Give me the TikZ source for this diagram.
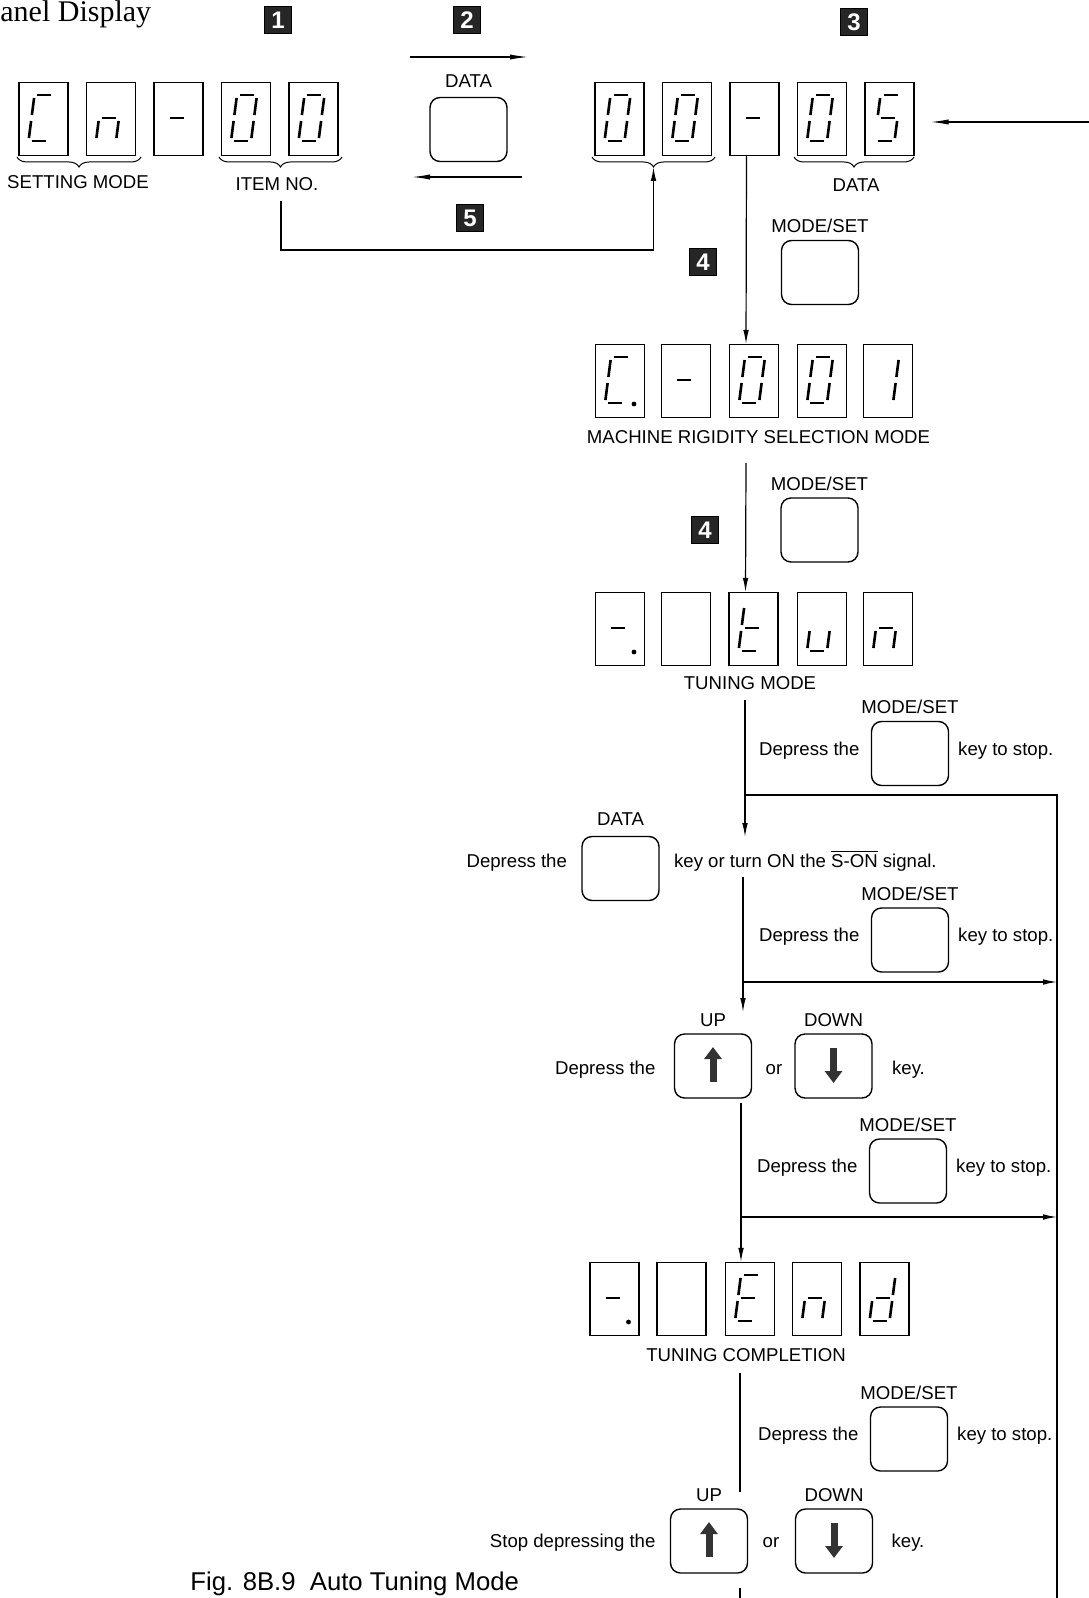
\documentclass[tikz,border=0pt]{standalone}
\usepackage{fontspec}
\setmainfont{Liberation Sans}
\newfontfamily\titlefont{Liberation Serif}
\usetikzlibrary{arrows.meta,positioning,decorations.pathreplacing}

% seven segment pieces: x1/y1/x2/y2 (px, y downwards)
\newcommand{\lcdsega}{-7/-23/7/-23}
\newcommand{\lcdsegb}{10/-20/10/-3}
\newcommand{\lcdsegc}{10/3/10/20}
\newcommand{\lcdsegd}{-7/23/7/23}
\newcommand{\lcdsege}{-10/3/-10/20}
\newcommand{\lcdsegf}{-10/-20/-10/-3}
\newcommand{\lcdsegg}{-7/0/7/0}
\def\lcdline#1/#2/#3/#4\relax{\draw[lcdseg] (#1,#2) -- (#3,#4);}
\newcommand{\lcd}[2]{%
  \begin{scope}[shift={(#1.center)},shift={(-2,-1)},xslant=0.13]
    \foreach \s in {#2}
      {\expandafter\expandafter\expandafter\lcdline\csname lcdseg\s\endcsname\relax}
  \end{scope}}
\newcommand{\lcddot}[1]{\fill ([shift={(14,23)}]#1.center) circle[radius=2.4];}

\tikzset{
  lbl/.style={font=\fontsize{9.3}{11}\selectfont, inner sep=0pt, text height=6.7pt, text depth=0pt},
  lcdbox/.style={draw, line width=0.55pt, minimum width=24.5pt, minimum height=36.5pt, inner sep=0pt},
  lcdseg/.style={line width=1.3pt},
  keycap/.style={draw, line width=0.7pt, rounded corners=5pt, minimum width=38.5pt, minimum height=32pt, inner sep=0pt},
  badge/.style={fill=black!85, draw=black, minimum size=13.5pt, inner sep=0pt, text=white,
    font=\fontsize{12}{12}\selectfont\bfseries},
  flow/.style={line width=0.6pt},
  flowtip/.style={-{Latex[length=7pt,width=2.8pt]}},
  longtip/.style={-{Latex[length=9pt,width=2.6pt]}},
  brk/.style={line width=0.5pt, decorate, decoration={brace, mirror, amplitude=5pt}},
  keyarrow/.style={black!80, line width=3.5pt, -{Triangle[width=8.5pt,length=6pt]}},
}

\begin{document}
\begin{tikzpicture}[x=0.5pt,y=-0.5pt]
  \useasboundingbox (0,0) rectangle (1088,1598);
  \node[font=\titlefont\fontsize{15}{18}\selectfont,anchor=base west,inner sep=0pt] (title) at (0,22) {anel Display};

  % Step badges
  \foreach \n/\t/\x/\y in {n1/1/278/20, n2/2/467/20, n3/3/854/22, n5/5/470/218, n4a/4/703/262, n4b/4/705/530}
    \node[badge] (\n) at (\x,\y) {\t};

  % Left: setting mode display
  \foreach \i/\x in {1/43.5,2/111,3/178.5,4/246,5/313.5}
    \node[lcdbox] (ra\i) at (\x,119) {};
  \lcd{ra1}{a,d,e,f} \lcd{ra2}{c,e,g} \lcd{ra3}{g}
  \lcd{ra4}{a,b,c,d,e,f} \lcd{ra5}{a,b,c,d,e,f}
  \draw[brk] (17,157) -- (141,157);
  \draw[brk] (219,157) -- (342,157);
  \node[lbl] (setmode) at (78,182) {SETTING MODE};
  \node[lbl] (itemno) at (277,183.5) {ITEM NO.};

  % DATA key between the displays
  \node[keycap] (datakey) at (468.5,129.5) {};
  \node[lbl,above=4.6pt of datakey] (datalbl) {DATA};
  \coordinate (fw0) at (410,57);  \coordinate (fw1) at (528,57);
  \coordinate (bw0) at (522,177); \coordinate (bw1) at (412,177);
  \draw[flow,longtip] (fw0) -- (fw1);
  \draw[flow,longtip] (bw0) -- (bw1);

  % Right: data display
  \foreach \i/\x in {1/619.5,2/687,3/754.5,4/822,5/889.5}
    \node[lcdbox] (rb\i) at (\x,119) {};
  \lcd{rb1}{a,b,c,d,e,f} \lcd{rb2}{a,b,c,d,e,f} \lcd{rb3}{g}
  \lcd{rb4}{a,b,c,d,e,f} \lcd{rb5}{a,c,d,f,g}
  \draw[brk] (592,157) -- (715,157);
  \draw[brk] (794,157) -- (914,157);
  \node[lbl] (datanum) at (856,185) {DATA};
  \coordinate (itempick) at (653.5,167);
  \coordinate (itembend) at (653.5,250);
  \draw[flow,flowtip] ([xshift=2pt,yshift=-5pt]itemno.south) |- (itembend) -- (itempick);
  \coordinate (retin) at (1092,122);
  \draw[flow,longtip] (retin) -- ([xshift=8pt,yshift=-1.5pt]rb5.east);

  % Machine rigidity selection
  \node[keycap] (mskey1) at (820,272.5) {};
  \node[lbl,above=3.4pt of mskey1] (msl1) {MODE/SET};
  \foreach \i/\x in {1/620,2/686,3/754,4/822,5/888}
    \node[lcdbox] (rc\i) at (\x,381) {};
  \lcd{rc1}{a,d,e,f} \lcddot{rc1} \lcd{rc2}{g}
  \lcd{rc3}{a,b,c,d,e,f} \lcd{rc4}{a,b,c,d,e,f} \lcd{rc5}{b,c}
  \node[lbl] (machine) at (758.5,437) {MACHINE RIGIDITY SELECTION MODE};

  % Tuning mode
  \node[keycap] (mskey2) at (819.5,530) {};
  \node[lbl,above=3.3pt of mskey2] (msl2) {MODE/SET};
  \foreach \i/\x in {1/620,2/686,3/753.5,4/822,5/888}
    \node[lcdbox] (rd\i) at (\x,629) {};
  \lcd{rd1}{g} \lcddot{rd1} \lcd{rd3}{d,e,f,g} \lcd{rd4}{c,d,e} \lcd{rd5}{c,e,g}
  \node[lbl] (tuning) at (750,683) {TUNING MODE};

  % Stop keys
  \foreach \k/\x/\y in {1/910/753.5,2/910/940,3/908/1171,4/909/1439}{
    \node[keycap] (stop\k) at (\x,\y) {};
    \node[lbl,above=3.3pt of stop\k] (stopl\k) {MODE/SET};
    \node[lbl,left=5.5pt of stop\k,yshift=2.5pt] (stopa\k) {Depress the};
    \node[lbl,right=4.3pt of stop\k,yshift=2.5pt] (stopb\k) {key to stop.};
  }

  % Servo on
  \node[keycap] (datakey2) at (620.5,868.5) {};
  \node[lbl,above=5pt of datakey2] (datal2) {DATA};
  \node[lbl,left=7pt of datakey2,yshift=4pt] (sona) {Depress the};
  \node[lbl,right=7pt of datakey2,yshift=4pt] (sonb) {key or turn ON the $\overline{\mbox{S-ON}}$ signal.};

  % UP / DOWN keys
  \node[keycap] (up1) at (713,1066) {};
  \node[keycap] (down1) at (833.5,1066) {};
  \node[lbl,above=3.2pt of up1] (upl1) {UP};
  \node[lbl,above=3.2pt of down1] (downl1) {DOWN};
  \draw[keyarrow] ([yshift=-8pt]up1.center) -- ([yshift=9.5pt]up1.center);
  \draw[keyarrow] ([yshift=9pt]down1.center) -- ([yshift=-8.5pt]down1.center);
  \node[lbl,left=9pt of up1,yshift=-1pt] (joga) {Depress the};
  \node[lbl] (or1) at (774,1068) {or};
  \node[lbl,right=9.5pt of down1,yshift=-1pt] (jogb) {key.};

  % Tuning completion
  \foreach \i/\x in {1/614.5,2/681.5,3/750,4/817,5/884.5}
    \node[lcdbox] (re\i) at (\x,1299) {};
  \lcd{re1}{g} \lcddot{re1} \lcd{re3}{a,d,e,f,g} \lcd{re4}{c,e,g} \lcd{re5}{b,c,d,e,g}
  \node[lbl] (complete) at (746,1355) {TUNING COMPLETION};

  % Release of UP / DOWN
  \node[keycap] (up2) at (709,1541) {};
  \node[keycap] (down2) at (834,1541) {};
  \node[lbl,above=3.2pt of up2] (upl2) {UP};
  \node[lbl,above=3.2pt of down2] (downl2) {DOWN};
  \draw[keyarrow] ([yshift=-8pt]up2.center) -- ([yshift=9.5pt]up2.center);
  \draw[keyarrow] ([yshift=9pt]down2.center) -- ([yshift=-8.5pt]down2.center);
  \node[lbl,left=7pt of up2] (rela) {Stop depressing the};
  \node[lbl] (or2) at (771,1541) {or};
  \node[lbl,right=9pt of down2] (relb) {key.};

  % Trunk and return line
  \coordinate (t1) at (746,463);
  \coordinate (t2) at (745,700);  \coordinate (t3) at (745,837);
  \coordinate (t4) at (743,877);  \coordinate (t5) at (743,1012);
  \coordinate (t6) at (741,1103);
  \coordinate (t7) at (740,1373); \coordinate (t8) at (740,1492);
  \coordinate (t9) at (740,1588); \coordinate (t10) at (740,1602);
  \coordinate (j1) at (745,795);  \coordinate (r1) at (1057,795);
  \coordinate (j2) at (743,982);  \coordinate (r2) at (1057,982);
  \coordinate (j3) at (741,1217); \coordinate (r3) at (1057,1217);
  \coordinate (rb) at (1057,1602);
  \draw[flow,flowtip] ([xshift=-4pt]rb3.south) -- ([xshift=-4pt]rc3.north);
  \draw[flow,flowtip] (t1) -- ([xshift=-4pt]rd3.north);
  \draw[flow,flowtip] (t2) -- (t3);
  \draw[flow,flowtip] (t4) -- (t5);
  \draw[flow,flowtip] (t6) -- ([xshift=-4.5pt]re3.north);
  \draw[flow] (t7) -- (t8);
  \draw[flow] (t9) -- (t10);
  \draw[flow] (j1) -- (r1) -- (rb);
  \draw[flow,flowtip] (j2) -- (r2);
  \draw[flow,flowtip] (j3) -- (r3);

  \node[font=\fontsize{12.85}{15}\selectfont,anchor=base west,inner sep=0pt] (caption) at (190,1590) {Fig. 8B.9\ \ Auto Tuning Mode};
\end{tikzpicture}
\end{document}
